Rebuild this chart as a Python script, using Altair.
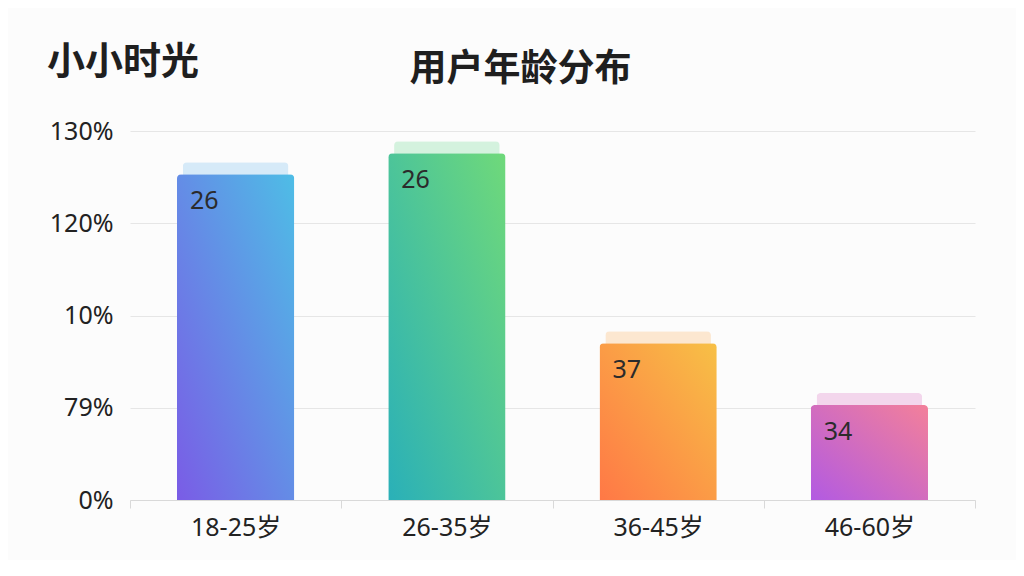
import altair as alt
import pandas as pd

brand = "小小时光"
title = "用户年龄分布"
categories = ["18-25岁", "26-35岁", "36-45岁", "46-60岁"]
heights = [3.53, 3.76, 1.70, 1.03]
bar_labels = ["26", "26", "37", "34"]
y_tick_values = [0, 1, 2, 3, 4]
y_tick_labels = ["0%", "79%", "10%", "120%", "130%"]
grad_bottom = ["#7a5ce6", "#2ab0b8", "#ff7846", "#b25ae2"]
grad_top = ["#4ebde6", "#6fd97a", "#f7c046", "#f3809a"]
shadow_colors = ["#d6eaf8", "#d4f2de", "#fce7d0", "#f3d6ec"]
shadow_extra = 0.13

df = pd.DataFrame({"cat": categories, "v": heights, "lab": bar_labels})

FONT = "Noto Sans, Noto Sans CJK SC"
TFONT = "Noto Sans CJK SC"
label_expr = "[" + ",".join("'%s'" % t for t in y_tick_labels) + "][datum.value]"

BAR_BAND = 0.555
xscale = alt.Scale(domain=categories, paddingInner=0, paddingOuter=0)
yscale = alt.Scale(domain=[0, 4], nice=False, zero=True)

x_axis = alt.Axis(labelFont=FONT, labelFontSize=25, labelColor="#222222",
                  labelPadding=7, labelAngle=0, domainColor="#d9d9d9",
                  tickColor="#d9d9d9", tickBand="extent", tickSize=8,
                  grid=False, title=None)
y_axis = alt.Axis(values=y_tick_values, labelExpr=label_expr, labelFont=FONT,
                  labelFontSize=25, labelColor="#222222", labelPadding=17,
                  domain=False, ticks=False, gridColor="#e6e6e6", title=None)


def xenc(**kw):
    return alt.X("cat:N", scale=xscale, sort=categories, axis=x_axis, **kw)


def yenc(field):
    return alt.Y(field, scale=yscale, axis=y_axis)


base = alt.Chart(df)

shadow = base.transform_calculate(top="datum.v + %f" % shadow_extra).mark_bar(
    width={"band": 0.5}, cornerRadiusTopLeft=4, cornerRadiusTopRight=4
).encode(
    x=xenc(),
    y=yenc("top:Q"),
    color=alt.Color("cat:N", scale=alt.Scale(domain=categories, range=shadow_colors),
                    legend=None),
)

bars = []
for c, b, t in zip(categories, grad_bottom, grad_top):
    g = {"gradient": "linear", "x1": 0, "y1": 1, "x2": 1, "y2": 0,
         "stops": [{"offset": 0, "color": b}, {"offset": 1, "color": t}]}
    bars.append(
        base.transform_filter(alt.datum.cat == c).mark_bar(
            fill=g, width={"band": BAR_BAND},
            cornerRadiusTopLeft=4, cornerRadiusTopRight=4
        ).encode(x=xenc(), y=yenc("v:Q"))
    )

text = base.mark_text(align="left", baseline="middle", dx=13, dy=27, fontSize=25,
                      font=FONT, color="#2b2b2b").encode(
    x=xenc(bandPosition=(1 - BAR_BAND) / 2),
    y=yenc("v:Q"),
    text="lab:N",
)

brand_layer = alt.Chart(pd.DataFrame({"t": [brand]})).mark_text(
    align="left", baseline="middle", fontSize=38, fontWeight="bold", font=TFONT,
    color="#1f1f1f"
).encode(x=alt.value(-83), y=alt.value(-68), text="t:N")

chart = alt.layer(shadow, *bars, text, brand_layer).properties(
    width=845, height=369,
    autosize=alt.AutoSizeParams(type="none"),
    padding={"left": 122, "top": 123, "right": 41, "bottom": 60},
    background="#fcfcfc",
    title=alt.TitleParams(title, anchor="middle", dx=-32, fontSize=37, font=TFONT,
                          fontWeight="bold", color="#1f1f1f", offset=-45),
).configure_view(stroke=None)

chart.save("out.html", embed_options={"renderer": "svg", "actions": False})
